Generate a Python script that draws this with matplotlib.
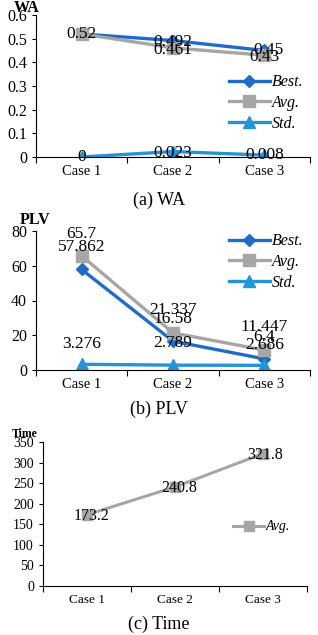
import matplotlib
matplotlib.use("Agg")
import matplotlib.pyplot as plt

plt.rcParams["font.family"] = ["Liberation Serif", "DejaVu Serif"]

cases = ["Case 1", "Case 2", "Case 3"]

wa_best = [0.52, 0.492, 0.45]
wa_avg = [0.52, 0.461, 0.43]
wa_std = [0, 0.023, 0.008]

plv_best = [57.862, 16.58, 6.4]
plv_avg = [65.7, 21.337, 11.447]
plv_std = [3.276, 2.789, 2.686]

time_avg = [173.2, 240.8, 321.8]

c_best = "#1f6cc8"
c_avg = "#a6a6a6"
c_std = "#2394d8"

W, H = 318, 635
fig = plt.figure(figsize=(W / 100, H / 100), dpi=100)


def make_ax(left, right, top, bottom):
    ax = fig.add_axes([left / W, 1 - bottom / H, (right - left) / W, (bottom - top) / H])
    for s in ["top", "right"]:
        ax.spines[s].set_visible(False)
    ax.set_xlim(0, 3)
    ax.set_xticks([0, 1, 2, 3])
    ax.set_xticklabels([])
    ax.set_xticks([0.5, 1.5, 2.5], minor=True)
    ax.set_xticklabels(cases, minor=True)
    ax.tick_params(axis="x", which="minor", length=0, pad=6)
    ax.tick_params(axis="x", which="major", length=4, direction="out")
    ax.tick_params(axis="y", length=3, direction="out")
    return ax


x = [0.5, 1.5, 2.5]
lkw = dict(lw=2.4, markersize=8)
leg_prop = {"style": "italic", "size": 11.5}
fs = 12.5

# (a) WA
ax = make_ax(36, 310, 15, 157)
ax.plot(x, wa_best, color=c_best, marker="D", label="Best.", lw=2.4, markersize=6)
ax.plot(x, wa_avg, color=c_avg, marker="s", label="Avg.", **lkw)
ax.plot(x, wa_std, color=c_std, marker="^", label="Std.", **lkw)
ax.set_ylim(0, 0.6)
ax.set_yticks([0, 0.1, 0.2, 0.3, 0.4, 0.5, 0.6])
ax.set_yticklabels(["0", "0.1", "0.2", "0.3", "0.4", "0.5", "0.6"])
ax.tick_params(labelsize=11.5)
ax.tick_params(axis="x", which="minor", labelsize=10.5)
ax.text(0.5, 0.52, "0.52", ha="center", va="center", fontsize=fs)
ax.text(1.5, 0.487, "0.492", ha="center", va="center", fontsize=fs)
ax.text(1.5, 0.452, "0.461", ha="center", va="center", fontsize=fs)
ax.text(2.55, 0.452, "0.45", ha="center", va="center", fontsize=fs)
ax.text(2.5, 0.423, "0.43", ha="center", va="center", fontsize=fs)
for xi, v, t in zip(x, [0, 0.018, 0.008], ["0", "0.023", "0.008"]):
    ax.text(xi, v, t, ha="center", va="center", fontsize=fs)
ax.legend(loc="center left", bbox_to_anchor=(0.68, 0.38), frameon=False, prop=leg_prop,
          handlelength=2.6, handletextpad=0.1, labelspacing=0.3, borderaxespad=0)
fig.text(14 / W, 1 - 8 / H, "WA", fontsize=11.5, fontweight="bold", va="center")
fig.text(159 / W, 1 - 200 / H, "(a) WA", fontsize=13, ha="center", va="center")

# (b) PLV
ax = make_ax(36, 310, 231, 370)
ax.plot(x, plv_best, color=c_best, marker="D", label="Best.", lw=2.4, markersize=6)
ax.plot(x, plv_avg, color=c_avg, marker="s", label="Avg.", **lkw)
ax.plot(x, plv_std, color=c_std, marker="^", label="Std.", **lkw)
ax.set_ylim(0, 80)
ax.set_yticks([0, 20, 40, 60, 80])
ax.tick_params(labelsize=11.5)
ax.tick_params(axis="x", which="minor", labelsize=10.5)
ax.text(0.5, 78, "65.7", ha="center", va="center", fontsize=fs)
ax.text(0.5, 70.8, "57.862", ha="center", va="center", fontsize=fs)
ax.text(1.5, 34.5, "21.337", ha="center", va="center", fontsize=fs)
ax.text(1.5, 29.4, "16.58", ha="center", va="center", fontsize=fs)
ax.text(1.5, 15.5, "2.789", ha="center", va="center", fontsize=fs)
ax.text(2.5, 24.7, "11.447", ha="center", va="center", fontsize=fs)
ax.text(2.5, 19, "6.4", ha="center", va="center", fontsize=fs)
ax.text(2.5, 14.4, "2.686", ha="center", va="center", fontsize=fs)
ax.text(0.5, 15, "3.276", ha="center", va="center", fontsize=fs)
ax.legend(loc="upper left", bbox_to_anchor=(0.68, 1.03), frameon=False, prop=leg_prop,
          handlelength=2.6, handletextpad=0.1, labelspacing=0.3, borderaxespad=0)
fig.text(20 / W, 1 - 220 / H, "PLV", fontsize=11.5, fontweight="bold", va="center")
fig.text(159 / W, 1 - 409 / H, "(b) PLV", fontsize=13, ha="center", va="center")

# (c) Time
ax = make_ax(43, 307, 442, 586)
ax.plot(x, time_avg, color=c_avg, marker="s", label="Avg.", lw=2.2, markersize=7)
ax.set_ylim(0, 350)
ax.set_yticks(range(0, 351, 50))
ax.tick_params(labelsize=10)
ax.tick_params(axis="x", which="minor", labelsize=9.5)
for xi, v, yl in zip([0.55, 1.55, 2.52], time_avg, [170, 238, 318]):
    ax.text(xi, yl, f"{v}", ha="center", va="center", fontsize=11.5)
ax.legend(loc="center left", bbox_to_anchor=(0.7, 0.41), frameon=False,
          prop={"style": "italic", "size": 10}, handlelength=2.2, handletextpad=0.1,
          borderaxespad=0)
fig.text(12 / W, 1 - 434 / H, "Time", fontsize=8.5, fontweight="bold", va="center")
fig.text(159 / W, 1 - 624 / H, "(c) Time", fontsize=13, ha="center", va="center")

fig.savefig("out.png", dpi=100)
